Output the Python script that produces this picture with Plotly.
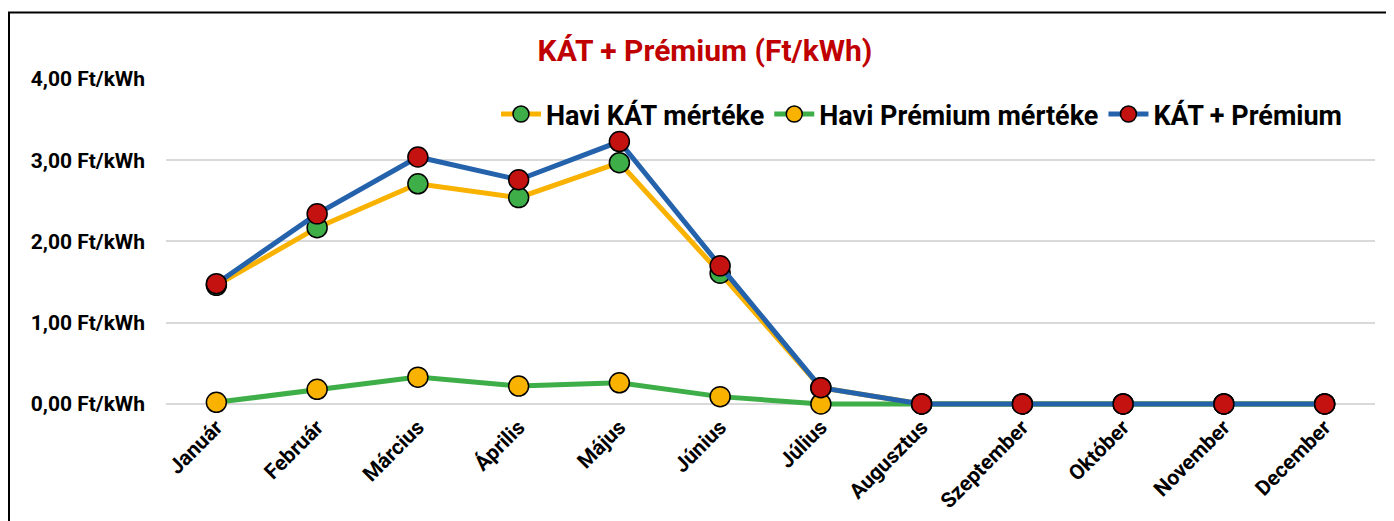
import plotly.graph_objects as go

months = ["Január", "Február", "Március", "Április", "Május", "Június",
          "Július", "Augusztus", "Szeptember", "Október", "November", "December"]
kat = [1.46, 2.17, 2.71, 2.54, 2.97, 1.61, 0.20, 0, 0, 0, 0, 0]
premium = [0.02, 0.18, 0.33, 0.22, 0.26, 0.09, 0.00, 0, 0, 0, 0, 0]
kat_plus_premium = [1.48, 2.34, 3.04, 2.76, 3.23, 1.70, 0.20, 0, 0, 0, 0, 0]
y_tick_vals = [0, 1, 2, 3, 4]
y_tick_text = ["0,00 Ft/kWh", "1,00 Ft/kWh", "2,00 Ft/kWh", "3,00 Ft/kWh", "4,00 Ft/kWh"]

OFF = 8  # page body margin
W, H = 1394, 521
Y_MIN, Y_MAX = -0.05, 4.0
# screen-space plot area (0 -> y=404, 4 -> y=79)
UNIT = (404 - 79) / 4.0
SL, SR, ST, SB = 166, 1375, 79, 404 + (0 - Y_MIN) * UNIT
L, R, T, B = SL - OFF, SR - OFF, ST - OFF, SB - OFF

ORANGE = "#F9B200"
GREEN = "#3EAE48"
BLUE = "#2462AC"
RED = "#C31210"
FONT = "Roboto, Arial, sans-serif"

fig = go.Figure()
fig.add_trace(go.Scatter(
    x=months, y=kat, name="Havi KÁT mértéke", mode="lines+markers",
    line=dict(color=ORANGE, width=5),
    marker=dict(color=GREEN, size=20, line=dict(color="black", width=1.5)),
    cliponaxis=False))
fig.add_trace(go.Scatter(
    x=months, y=premium, name="Havi Prémium mértéke", mode="lines+markers",
    line=dict(color=GREEN, width=5),
    marker=dict(color=ORANGE, size=20, line=dict(color="black", width=1.5)),
    cliponaxis=False))
fig.add_trace(go.Scatter(
    x=months, y=kat_plus_premium, name="KÁT + Prémium", mode="lines+markers",
    line=dict(color=BLUE, width=5),
    marker=dict(color=RED, size=20, line=dict(color="black", width=1.5)),
    cliponaxis=False))

def px_x(sp):
    return (sp - SL) / (SR - SL)

def px_y(sp):
    return (SB - sp) / (SB - ST)

fig.update_layout(
    width=W, height=H,
    margin=dict(l=L, r=W - R, t=T, b=H - B),
    paper_bgcolor="white", plot_bgcolor="white",
    font=dict(family=FONT, color="black"),
    title=dict(text="<b>KÁT + Prémium (Ft/kWh)</b>", x=0.5, xanchor="center",
               xref="container", y=1 - (50 - OFF) / H, yanchor="middle",
               font=dict(size=30, color="#C00000", family=FONT)),
    showlegend=True,
    legend=dict(orientation="h", x=px_x(496), xanchor="left", y=px_y(90), yanchor="top",
                bgcolor="rgba(0,0,0,0)", font=dict(size=27, color="black", family=FONT, weight="bold"),
                itemwidth=40, tracegroupgap=0),
    xaxis=dict(type="category", range=[-0.5, 11.5], showgrid=False, showline=False,
               zeroline=False, tickangle=-45, ticks="", ticklabelstandoff=2,
               tickfont=dict(size=21, family=FONT, weight="bold")),
    yaxis=dict(range=[Y_MIN, Y_MAX], tickvals=y_tick_vals, ticktext=y_tick_text,
               showgrid=True, gridcolor="#D9D9D9", gridwidth=2, zeroline=False,
               showline=False, ticks="", ticklabelstandoff=20,
               tickfont=dict(size=21, family=FONT, weight="bold")),
    shapes=[dict(type="rect", xref="paper", yref="paper",
                 x0=px_x(OFF + 1), x1=px_x(1410), y0=px_y(540), y1=px_y(12.5),
                 line=dict(color="black", width=2), fillcolor="rgba(0,0,0,0)", layer="below")],
)

fig.write_html("out.html")
